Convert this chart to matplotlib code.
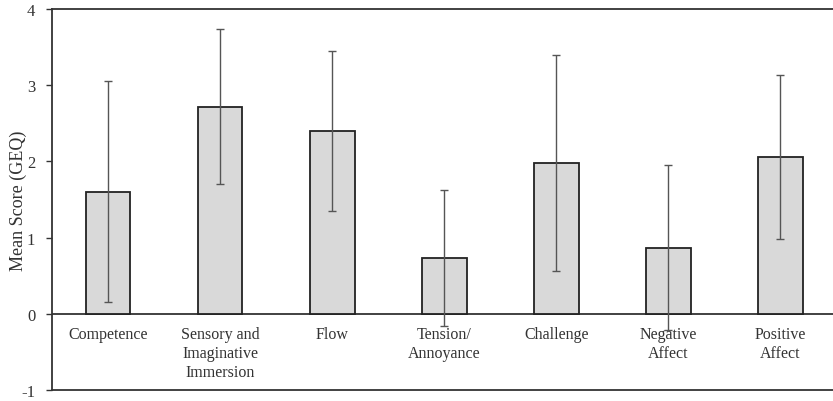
import matplotlib.pyplot as plt

categories = ["Competence", "Sensory and\nImaginative\nImmersion", "Flow", "Tension/\nAnnoyance",
              "Challenge", "Negative\nAffect", "Positive\nAffect"]
means = [1.60, 2.72, 2.40, 0.73, 1.98, 0.87, 2.06]
errors = [1.45, 1.02, 1.05, 0.89, 1.42, 1.08, 1.08]

plt.rcParams['font.family'] = ['Liberation Serif', 'DejaVu Serif']

fig = plt.figure(figsize=(8.33, 4.02), dpi=100)
ax = fig.add_axes([52 / 833, 11 / 402, 781 / 833, 381 / 402])

x = list(range(len(categories)))
ax.bar(x, means, width=0.4, color="#d9d9d9", edgecolor="#222222", linewidth=1.3, zorder=2)
ax.errorbar(x, means, yerr=errors, fmt="none", ecolor="#555555", elinewidth=1.0,
            capsize=3, capthick=1.0, zorder=3)

ax.axhline(0, color="#333333", linewidth=1.3, zorder=1)

for i, lab in enumerate(categories):
    ax.annotate(lab, xy=(i, 0), xytext=(0, -9), textcoords="offset points",
                ha="center", va="top", fontsize=11.5, color="#333333", linespacing=1.25)

ax.set_xlim(-0.5, 6.47)
ax.set_ylim(-1, 4)
ax.set_yticks([-1, 0, 1, 2, 3, 4])
ax.set_yticklabels(["-1", "0", "1", "2", "3", "4"])
ax.set_xticks([])
ax.tick_params(axis="y", direction="out", length=4, width=1, colors="#333333", labelsize=12, pad=8)
ax.set_ylabel("Mean Score (GEQ)", fontsize=13, color="#333333")
ax.yaxis.set_label_coords(-0.032, 0.5)

for side in ["left", "top", "bottom"]:
    ax.spines[side].set_color("#333333")
    ax.spines[side].set_linewidth(1.3)
ax.spines["right"].set_visible(False)

fig.savefig("out.png", dpi=100)
